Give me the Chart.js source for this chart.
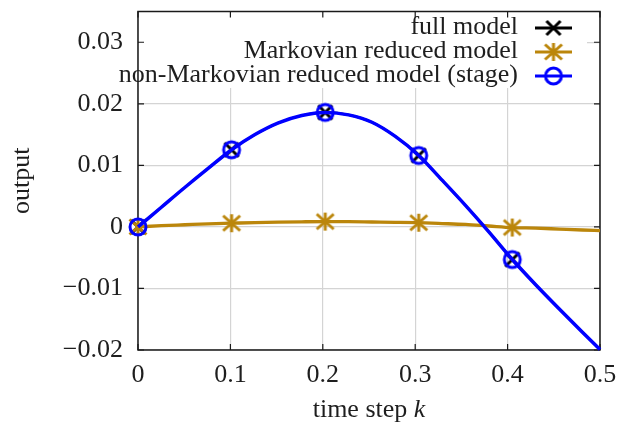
<!DOCTYPE html>
<html><head><meta charset="utf-8">
<script src="https://cdn.jsdelivr.net/npm/chart.js@4"></script>
<style>html,body{margin:0;padding:0;background:#fff}canvas{display:block}</style>
</head><body>
<canvas id="c" width="618" height="429"></canvas>
<script>
// ---- data ----
const timeSteps = [0,0.0253,0.0506,0.0759,0.1013,0.1266,0.1519,0.1772,0.2026,0.2279,0.2532,0.2785,0.3038,0.3291,0.3544,0.3797,0.4051,0.4304,0.4557,0.481,0.5];
const fullModel = [0,0.0032,0.0064,0.0095,0.01253,0.0150,0.0169,0.0181,0.0186,0.0182,0.0170,0.0147,0.01161,0.0076,0.0035,-0.0008,-0.0053,-0.0094,-0.0133,-0.0171,-0.0199];
const markovianModel = [0,0.0002,0.00035,0.0005,0.0006,0.0007,0.00078,0.00083,0.00086,0.00085,0.0008,0.00075,0.00068,0.00055,0.0004,0.00015,-0.0001,-0.0002,-0.00035,-0.0005,-0.0006];
const nonMarkovianModel = [0,0.0032,0.0064,0.0095,0.01253,0.0150,0.0169,0.0181,0.0186,0.0182,0.0170,0.0147,0.01161,0.0076,0.0035,-0.0008,-0.0053,-0.0094,-0.0133,-0.0171,-0.0199];
const markerIndices = [0,4,8,12,16];
const xTickValues = [0,0.1,0.2,0.3,0.4,0.5];
const yTickValues = [-0.02,-0.01,0,0.01,0.02,0.03];
const seriesNames = ['full model','Markovian reduced model','non-Markovian reduced model (stage)'];
const xTitleText = 'time step ';
const xTitleVar = 'k';
const yTitleText = 'output';

// ---- styles ----
const FONT = '"Liberation Serif", "Times New Roman", serif';
const TXT = '#1e1e1e';
const BLACK = '#000000', GOLD = '#bb860b', BLUE = '#0000ff';

function mk(w, h, draw){ const c=document.createElement('canvas'); c.width=w; c.height=h; const g=c.getContext('2d'); draw(g); return c; }
const crossImg = mk(20,20,g=>{ g.strokeStyle=BLACK; g.lineWidth=3; g.beginPath(); g.moveTo(3,3); g.lineTo(17,17); g.moveTo(17,3); g.lineTo(3,17); g.stroke(); });
const starImg = mk(22,22,g=>{ g.strokeStyle=GOLD; g.lineWidth=3; g.beginPath(); g.moveTo(11,2); g.lineTo(11,20); g.moveTo(2.5,3.5); g.lineTo(19.5,18.5); g.moveTo(19.5,3.5); g.lineTo(2.5,18.5); g.stroke(); });
const circleImg = mk(24,24,g=>{ g.strokeStyle=BLUE; g.lineWidth=3; g.beginPath(); g.arc(12,12,8,0,Math.PI*2); g.stroke(); });

const radii = timeSteps.map((t,i)=> markerIndices.includes(i) ? 8 : 0);
const pts = arr => timeSteps.map((t,i)=>({x:t, y:arr[i]}));
const fmt = v => v < 0 ? '\u2212' + String(-v) : String(v);
const noPad = s => { s.paddingTop = 0; s.paddingBottom = 0; s.paddingLeft = 0; s.paddingRight = 0; };

const decor = {
  id: 'decor',
  beforeDatasetsDraw(chart){
    const {ctx, chartArea:a, scales:{x, y}} = chart;
    ctx.save();
    // opaque key background
    ctx.fillStyle = '#fff';
    ctx.fillRect(a.left+1, a.top+1, 587 - a.left - 1, 88 - a.top - 1);
    // frame
    ctx.strokeStyle = '#1a1a1a'; ctx.lineWidth = 1.5;
    ctx.strokeRect(a.left, a.top, a.right - a.left, a.bottom - a.top);
    // inward ticks
    ctx.lineWidth = 1.2; ctx.beginPath();
    xTickValues.forEach(v=>{ const p = x.getPixelForValue(v); ctx.moveTo(p, a.bottom); ctx.lineTo(p, a.bottom-6); ctx.moveTo(p, a.top); ctx.lineTo(p, a.top+6); });
    yTickValues.forEach(v=>{ const p = y.getPixelForValue(v); ctx.moveTo(a.left, p); ctx.lineTo(a.left+6, p); ctx.moveTo(a.right, p); ctx.lineTo(a.right-6, p); });
    ctx.stroke();
    ctx.restore();
  },
  afterDraw(chart){
    const {ctx, chartArea:a} = chart;
    ctx.save();
    // key
    const rows = [[seriesNames[0], BLACK, crossImg],[seriesNames[1], GOLD, starImg],[seriesNames[2], BLUE, circleImg]];
    ctx.font = '26px ' + FONT; ctx.fillStyle = TXT; ctx.textAlign = 'right'; ctx.textBaseline = 'middle';
    rows.forEach((r,i)=>{
      const yy = 28 + 24*i;
      ctx.fillStyle = TXT; ctx.fillText(r[0], 518, yy - 1);
      ctx.strokeStyle = r[1]; ctx.lineWidth = 3; ctx.beginPath(); ctx.moveTo(535, yy); ctx.lineTo(572, yy); ctx.stroke();
      ctx.drawImage(r[2], 553.5 - r[2].width/2, yy - r[2].height/2);
    });
    // x title with italic k
    ctx.textAlign = 'left'; ctx.textBaseline = 'middle'; ctx.fillStyle = TXT;
    ctx.font = '26px ' + FONT; const w1 = ctx.measureText(xTitleText).width;
    ctx.font = 'italic 26px ' + FONT; const w2 = ctx.measureText(xTitleVar).width;
    const cx = (a.left + a.right)/2, x0 = cx - (w1+w2)/2;
    ctx.font = '26px ' + FONT; ctx.fillText(xTitleText, x0, 410);
    ctx.font = 'italic 26px ' + FONT; ctx.fillText(xTitleVar, x0 + w1, 410);
    // y title
    ctx.font = '26px ' + FONT; ctx.textAlign = 'center';
    ctx.translate(22, (a.top + a.bottom)/2); ctx.rotate(-Math.PI/2);
    ctx.fillText(yTitleText, 0, 0);
    ctx.restore();
  }
};

const common = { fill: false, cubicInterpolationMode: 'monotone', pointRadius: radii, clip: false };
new Chart(document.getElementById('c'), {
  type: 'line',
  data: { datasets: [
    Object.assign({ label: seriesNames[2], data: pts(nonMarkovianModel), borderColor: BLUE, borderWidth: 3.5, pointStyle: circleImg, order: 1 }, common),
    Object.assign({ label: seriesNames[1], data: pts(markovianModel), borderColor: GOLD, borderWidth: 3.3, pointStyle: starImg, order: 2 }, common),
    Object.assign({ label: seriesNames[0], data: pts(fullModel), borderColor: BLACK, borderWidth: 2.2, pointStyle: crossImg, order: 3 }, common)
  ]},
  options: {
    responsive: false, animation: false, events: [],
    layout: { padding: { left: 0, top: 10, right: 18, bottom: 0 } },
    plugins: { legend: { display: false }, tooltip: { enabled: false } },
    scales: {
      x: { type: 'linear', min: 0, max: 0.5,
        afterBuildTicks: s => { s.ticks = xTickValues.map(v=>({value:v})); },
        afterFit: s => { s.height = 79; noPad(s); },
        grid: { color: '#d4d4d4', lineWidth: 1.2, drawTicks: false },
        border: { display: false },
        ticks: { padding: 10, color: TXT, font: { family: FONT, size: 26 }, maxRotation: 0, autoSkip: false, callback: v => fmt(v) }
      },
      y: { type: 'linear', min: -0.02, max: 0.035,
        afterBuildTicks: s => { s.ticks = yTickValues.map(v=>({value:v})); },
        afterFit: s => { s.width = 138; noPad(s); },
        grid: { color: '#d4d4d4', lineWidth: 1.2, drawTicks: false },
        border: { display: false },
        ticks: { padding: 15, color: TXT, font: { family: FONT, size: 26 }, autoSkip: false, callback: v => fmt(v) }
      }
    }
  },
  plugins: [decor]
});
</script>
</body></html>
